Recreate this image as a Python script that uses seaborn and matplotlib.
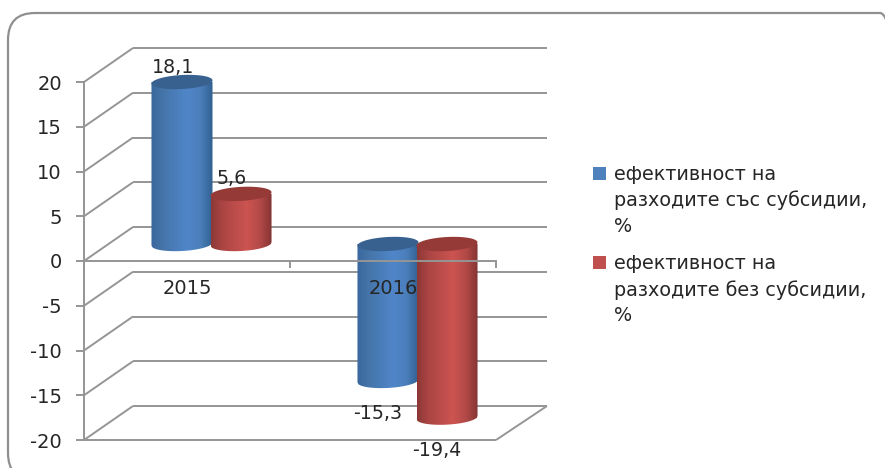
import numpy as np
import pandas as pd
import seaborn as sns
import matplotlib
matplotlib.use("Agg")
import matplotlib.pyplot as plt
from matplotlib.colors import LinearSegmentedColormap
from matplotlib.legend_handler import HandlerPatch
from matplotlib.patches import FancyBboxPatch, Polygon, Rectangle, Patch
from matplotlib.path import Path
from matplotlib.transforms import Affine2D, IdentityTransform

# ---- data ----
years = ["2015", "2016"]
with_subsidies = [18.1, -15.3]
without_subsidies = [5.6, -19.4]
series_names = ["ефективност на\nразходите със субсидии,\n%",
                "ефективност на\nразходите без субсидии,\n%"]
value_labels = [["18,1", "-15,3"], ["5,6", "-19,4"]]
y_ticks = [20, 15, 10, 5, 0, -5, -10, -15, -20]

# ---- style ----
GRID = "#959595"
TXT = "#262626"
BLUE = "#4f81bd"
RED = "#c0504d"
CAPS = ["#38618f", "#953a37"]
RAMPS = [["#3a679d", "#4474a8", "#5086c9", "#4b7ebb", "#32608f"],
         ["#8c3836", "#aa4543", "#cc5451", "#b24947", "#7f3230"]]
DEPTH = np.array([49.0, 34.0])    # 3D wall offset, display pixels
H = 468

sns.set_theme(style="white")
plt.rcParams["font.family"] = ["DejaVu Sans"]
fig = plt.figure(figsize=(8.85, 4.68), dpi=100, facecolor="white")
ax = fig.add_axes([84 / 885, (H - 440) / H, 412 / 885, 358 / H])
ax.patch.set_alpha(0)

df = pd.DataFrame({
    "year": years * 2,
    "value": with_subsidies + without_subsidies,
    "series": [series_names[0]] * 2 + [series_names[1]] * 2,
})
sns.barplot(data=df, x="year", y="value", hue="series", palette=[BLUE, RED],
            width=0.573, legend=False, ax=ax, saturation=1, zorder=3,
            err_kws={"linewidth": 0})
ax.set_xlim(-0.5, 1.5)
ax.set_ylim(-20, 20)
ax.set_xlabel("")
ax.set_ylabel("")

ID = IdentityTransform()


def disp(x, y):
    return ax.transData.transform((x, y))


def line(p, q, **kw):
    ax.plot([p[0], q[0]], [p[1], q[1]], transform=ID, color=GRID, lw=1.4,
            clip_on=False, solid_capstyle="butt", zorder=1, **kw)


# walls: back gridlines, left diagonals, floor diagonal
for t in y_ticks:
    a = disp(-0.5, t)
    b = disp(1.5, t)
    line(a + DEPTH, b + DEPTH + np.array([2, 0]))
    line(a, a + DEPTH)
fl = disp(1.5, -20)
line(fl, fl + DEPTH + np.array([2, 0]))
line(disp(-0.5, -20), disp(1.5, -20))

# cylinders
shift = Affine2D().translate(*(DEPTH / 2))
half_h = 7.0
tilt = 1.6
grad = np.linspace(0, 1, 256).reshape(1, -1)
for k, container in enumerate(ax.containers):
    cmap = LinearSegmentedColormap.from_list("c", list(zip([0, .18, .58, .8, 1], RAMPS[k])))
    for j, bar in enumerate(container):
        bar.set_transform(ax.transData + shift)
        bar.set_linewidth(0)
        bar.set_clip_on(False)
        x0 = bar.get_x()
        x1 = x0 + bar.get_width()
        v = bar.get_height() + bar.get_y()
        l, base_y = disp(x0, 0) + DEPTH / 2
        r, end_y = disp(x1, v) + DEPTH / 2
        l -= 1
        r += 1
        top_y, bot_y = max(base_y, end_y), min(base_y, end_y)
        cx = (l + r) / 2
        a = (r - l) / 2
        u = np.linspace(1, -1, 60)
        lower = np.c_[cx + a * u, bot_y - half_h * np.sqrt(1 - u ** 2) + tilt * u]
        body = np.vstack([[[l, top_y]], [[r, top_y]], lower])
        z = 4 + k + j * 0.1
        im = ax.imshow(grad, cmap=cmap, aspect="auto", extent=(0, 1, 0, 1), zorder=z)
        im.set_extent((l, r, bot_y - half_h - 3, top_y + 3))
        im.set_transform(ID)
        im.set_clip_path(Path(body), ID)
        v2 = np.linspace(0, 2 * np.pi, 90)
        cap = np.c_[cx + a * np.cos(v2),
                    top_y + half_h * np.sin(v2) + tilt * np.cos(v2)]
        ax.add_patch(Polygon(cap, closed=True, transform=ID, facecolor=CAPS[k],
                             edgecolor="none", zorder=z + 0.05, clip_on=False))
        # data label anchored to the bar end
        off, yy = ((-9, 15), top_y) if v >= 0 else ((-10, -33), bot_y)
        ax.annotate(value_labels[k][j], xy=(cx, yy), xycoords=ID, xytext=off,
                    textcoords="offset pixels", ha="center", va="center",
                    fontsize=13.7, color=TXT, zorder=12, annotation_clip=False)

ax.set_xlim(-0.5, 1.5)
ax.set_ylim(-20, 20)

# axes
for s in ("top", "right"):
    ax.spines[s].set_visible(False)
ax.spines["bottom"].set_position(("data", 0))
for s in ("left", "bottom"):
    ax.spines[s].set_color(GRID)
    ax.spines[s].set_linewidth(1.4)
    ax.spines[s].set_zorder(10)
ax.set_yticks(y_ticks)
ax.set_yticklabels([str(t) for t in y_ticks], fontsize=14, color=TXT)
ax.tick_params(axis="y", left=True, length=6, width=1.4, color=GRID, pad=10)
ax.set_xticks([0, 1])
ax.set_xticklabels(years, fontsize=14, color=TXT)
ax.tick_params(axis="x", which="major", bottom=False, length=0, pad=13)
ax.set_xticks([-0.5, 0.5, 1.5], minor=True)
ax.tick_params(axis="x", which="minor", bottom=True, length=5, width=1.4, color=GRID)
ax.xaxis.set_zorder(11)


# legend: swatch lines up with the first line of each entry
class FirstLineHandler(HandlerPatch):
    def create_artists(self, legend, orig, xd, yd, width, height, fontsize, trans):
        return [Rectangle((0, 20), 9.5, 9.5, facecolor=orig.get_facecolor(),
                          edgecolor="none", transform=trans)]


handles = [Patch(color=BLUE), Patch(color=RED)]
leg = ax.legend(handles, series_names, loc="upper left", frameon=False,
                bbox_to_anchor=(593 / 885, (H - 165) / H), bbox_transform=fig.transFigure,
                fontsize=13.8, labelcolor=TXT, handlelength=0.69, handletextpad=0.38,
                labelspacing=0.95, borderpad=0, borderaxespad=0,
                handler_map={Patch: FirstLineHandler()})
for t in leg.get_texts():
    t.set_linespacing(1.43)

# rounded outer frame, running off the picture to the right and bottom
R = 27
fig.add_artist(FancyBboxPatch((8 + R, H - 480 + R), 907 - 8 - 2 * R, 480 - 13 - 2 * R,
                              boxstyle=f"round,pad={R},rounding_size={R}",
                              transform=ID, facecolor="none", edgecolor="#8f8f8f", lw=1.6))

fig.savefig("out.png", dpi=100)
